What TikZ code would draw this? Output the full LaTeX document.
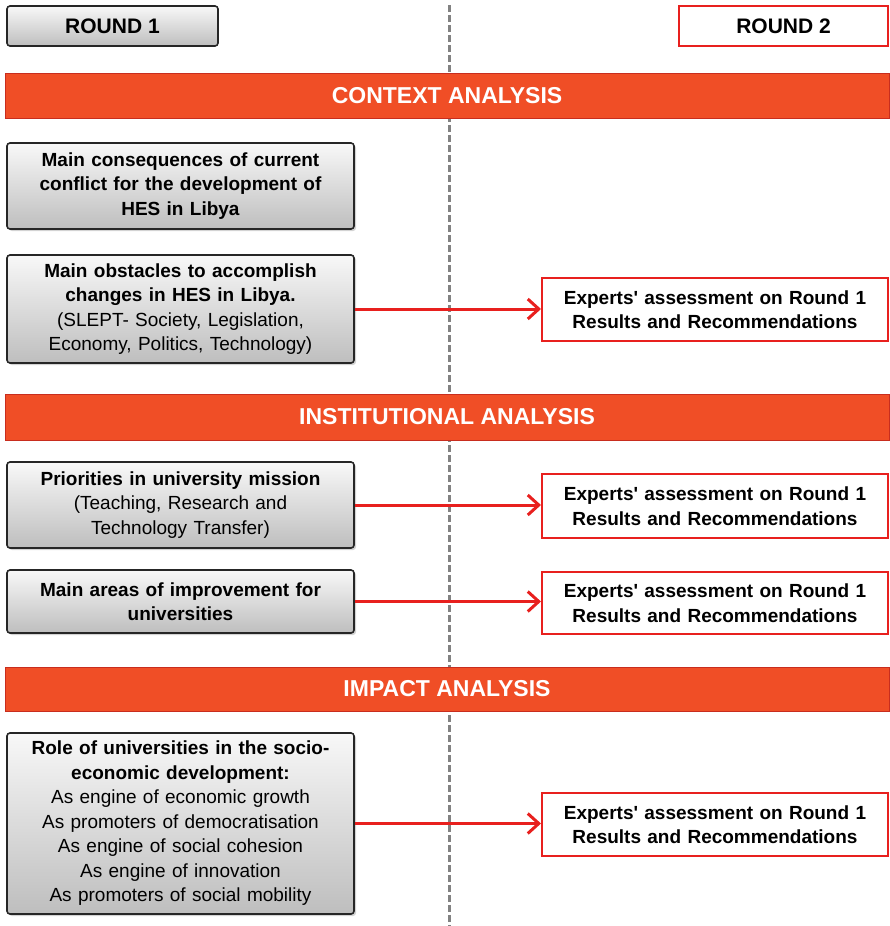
\documentclass[tikz,border=0pt]{standalone}
\usepackage{fontspec}
\newfontfamily\diagfont{Liberation Sans}
\usepackage{xcolor}
\usepackage{tikz}
\usetikzlibrary{
  arrows.meta,
  positioning,
  shadows,
  backgrounds,
  calc
}
\definecolor{barred}{RGB}{240,78,38}
\definecolor{bardark}{RGB}{200,45,30}
\definecolor{linkred}{RGB}{232,32,30}
\definecolor{dashgray}{RGB}{130,130,130}
\definecolor{boxtop}{RGB}{248,248,248}
\definecolor{boxbottom}{RGB}{190,190,190}

\begin{document}
\begin{tikzpicture}[
  x=1pt, y=-1pt,
  every node/.style={font=\diagfont\fontsize{19}{24.5}\selectfont},
  roundnode/.style={rectangle, rounded corners=3pt, minimum width=211pt,
    minimum height=40pt, text centered, draw=black!85, line width=1.6pt,
    top color=boxtop, bottom color=boxbottom,
    font=\diagfont\bfseries\fontsize{21}{24}\selectfont},
  roundtwo/.style={rectangle, minimum width=209pt, minimum height=40pt,
    text centered, draw=linkred, line width=2pt, fill=white,
    font=\diagfont\bfseries\fontsize{21}{24}\selectfont},
  barnode/.style={rectangle, minimum width=884pt, minimum height=45pt,
    text centered, draw=bardark, line width=0.8pt, fill=barred, text=white,
    font=\diagfont\bfseries\fontsize{23}{26}\selectfont},
  topicnode/.style={rectangle, rounded corners=3pt, minimum width=347pt,
    text width=340pt, align=center, inner sep=0pt, draw=black!85,
    line width=1.6pt, top color=boxtop, bottom color=boxbottom,
    drop shadow={opacity=0.35, shadow xshift=2pt, shadow yshift=-2pt}},
  expertnode/.style={rectangle, minimum width=346pt, minimum height=63pt,
    text width=334pt, align=center, inner sep=0pt, draw=linkred,
    line width=2pt, fill=white, font=\diagfont\bfseries\fontsize{19}{24.5}\selectfont},
  arr/.style={-{Straight Barb[length=11pt, width=20pt, line width=3pt]},
    line width=3pt, color=linkred},
  divider/.style={dashed, dash pattern=on 7pt off 3pt, line width=3pt,
    color=dashgray},
]
  \useasboundingbox (0,0) rectangle (889,926);

  % Rounds
  \node[roundnode] (r1) at (112.5,26) {ROUND 1};
  \node[roundtwo] (r2) at (783.5,26) {ROUND 2};

  % Analysis bars
  \node[barnode] (ctx) at (447,95.5) {CONTEXT ANALYSIS};
  \node[barnode, minimum height=46pt] (inst) at (447,417) {INSTITUTIONAL ANALYSIS};
  \node[barnode, minimum height=44pt] (imp) at (447,689) {IMPACT ANALYSIS};

  % Round 1 topics
  \node[topicnode, minimum height=86pt] (t1) at (180.5,186)
    {\textbf{Main consequences of current\\conflict for the development of\\HES in Libya}};
  \node[topicnode, minimum height=108pt] (t2) at (180.5,309)
    {\textbf{Main obstacles to accomplish\\changes in HES in Libya.}\\(SLEPT- Society, Legislation,\\Economy, Politics, Technology)};
  \node[topicnode, minimum height=86pt] (t3) at (180.5,505)
    {\textbf{Priorities in university mission}\\(Teaching, Research and\\Technology Transfer)};
  \node[topicnode, minimum height=63pt] (t4) at (180.5,601.5)
    {\textbf{Main areas of improvement for\\universities}};
  \node[topicnode, minimum height=181pt] (t5) at (180.5,823.5)
    {\textbf{Role of universities in the socio-\\economic development:}\\As engine of economic growth\\As promoters of democratisation\\As engine of social cohesion\\As engine of innovation\\As promoters of social mobility};

  % Round 2 assessments
  \node[expertnode] (e1) at (715,309.5) {Experts' assessment on Round 1\\Results and Recommendations};
  \node[expertnode, minimum height=64pt] (e2) at (715,506) {Experts' assessment on Round 1\\Results and Recommendations};
  \node[expertnode, minimum height=62pt] (e3) at (715,603) {Experts' assessment on Round 1\\Results and Recommendations};
  \node[expertnode] (e4) at (715,824.5) {Experts' assessment on Round 1\\Results and Recommendations};

  % Divider
  \coordinate (dtop) at (449,5);
  \coordinate (dbot) at (449,926);
  \begin{scope}[on background layer]
    \draw[divider] (dtop) -- (dbot);
  \end{scope}

  % Edges
  \draw[arr] (t2.east) -- (t2.east -| e1.west);
  \draw[arr] (t3.east) -- (t3.east -| e2.west);
  \draw[arr] (t4.east) -- (t4.east -| e3.west);
  \draw[arr] (t5.east) -- (t5.east -| e4.west);
\end{tikzpicture}
\end{document}
